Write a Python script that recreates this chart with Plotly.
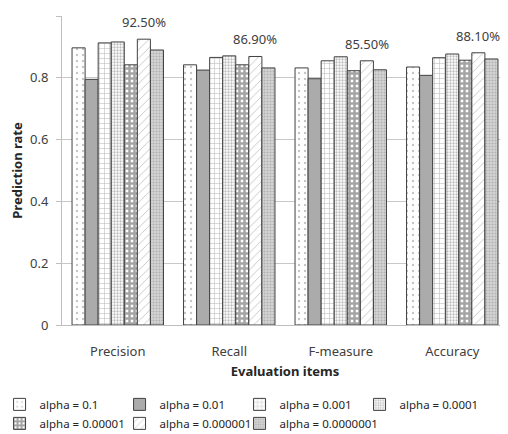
import plotly.graph_objects as go

categories = ["Precision", "Recall", "F-measure", "Accuracy"]
series_names = ["alpha = 0.1", "alpha = 0.01", "alpha = 0.001", "alpha = 0.0001",
                "alpha = 0.00001", "alpha = 0.000001", "alpha = 0.0000001"]
alpha_0_1 = [0.897, 0.842, 0.832, 0.835]
alpha_0_01 = [0.795, 0.825, 0.797, 0.808]
alpha_0_001 = [0.913, 0.866, 0.855, 0.865]
alpha_0_0001 = [0.916, 0.871, 0.868, 0.877]
alpha_0_00001 = [0.842, 0.842, 0.823, 0.857]
alpha_0_000001 = [0.925, 0.869, 0.855, 0.881]
alpha_0_0000001 = [0.890, 0.832, 0.826, 0.861]
all_values = [alpha_0_1, alpha_0_01, alpha_0_001, alpha_0_0001,
              alpha_0_00001, alpha_0_000001, alpha_0_0000001]
labelled_series = 5  # index of series with data labels
y_ticks = [0, 0.2, 0.4, 0.6, 0.8, 1]

styles = [
    dict(color="white", pattern=dict(shape=".", fgcolor="#8c8c8c", bgcolor="white", size=6, solidity=0.12)),
    dict(color="#ababab", pattern=dict(shape="")),
    dict(color="white", pattern=dict(shape="+", fgcolor="#6e6e6e", bgcolor="white", size=5, solidity=0.2)),
    dict(color="white", pattern=dict(shape=".", fgcolor="#7a7a7a", bgcolor="white", size=3, solidity=0.45)),
    dict(color="white", pattern=dict(shape="+", fgcolor="#4a4a4a", bgcolor="white", size=5, solidity=0.75)),
    dict(color="white", pattern=dict(shape="/", fgcolor="#8a8a8a", bgcolor="white", size=6, solidity=0.15)),
    dict(color="#d6d6d6", pattern=dict(shape=".", fgcolor="#8c8c8c", bgcolor="#d6d6d6", size=3, solidity=0.4)),
]

FONT = "Noto Sans"
fig = go.Figure()
for name, vals, st in zip(series_names, all_values, styles):
    fig.add_trace(go.Bar(
        x=categories, y=vals, name=name,
        marker=dict(color=st["color"], pattern=st["pattern"],
                    line=dict(color="#404040", width=1)),
    ))

n = len(series_names)
bargap = 0.18
plot_w = 446
cat_w = plot_w / len(categories)
bar_w = cat_w * (1 - bargap) / n
offset_px = (labelled_series - (n - 1) / 2) * bar_w
for c, v in zip(categories, all_values[labelled_series]):
    fig.add_annotation(x=c, y=v, text=f"{v*100:.2f}%", showarrow=False,
                       xshift=offset_px, yshift=6, yanchor="bottom",
                       font=dict(family=FONT, size=13, color="#404040"))

fig.update_layout(
    width=500, height=426,
    margin=dict(l=54, r=0, t=8, b=109, autoexpand=False),
    paper_bgcolor="white", plot_bgcolor="white",
    barmode="group", bargap=bargap, bargroupgap=0,
    font=dict(family=FONT, color="#404040"),
    showlegend=True,
    legend=dict(orientation="h", x=-0.14, xanchor="left", y=-0.21, yanchor="top",
                font=dict(family=FONT, size=11.5, color="#262626"),
                entrywidth=75, entrywidthmode="pixels",
                itemwidth=30, tracegroupgap=0, traceorder="normal"),
    xaxis=dict(showline=True, linecolor="#bfbfbf", linewidth=1, automargin=False,
               ticks="", ticklabelstandoff=14,
               tickfont=dict(family=FONT, size=13, color="#404040"),
               title=dict(text="<b>Evaluation items</b>", font=dict(family=FONT, size=13, color="#262626"), standoff=8)),
    yaxis=dict(range=[0, 1], tickvals=y_ticks, ticktext=[f"{t:g}" for t in y_ticks],
               showline=True, linecolor="#bfbfbf", linewidth=1, automargin=False,
               ticks="outside", ticklen=5, tickcolor="#bfbfbf", ticklabelstandoff=5,
               showgrid=True, gridcolor="#c8c8c8", gridwidth=1, zeroline=False,
               tickfont=dict(family=FONT, size=13, color="#404040"),
               title=dict(text="<b>Prediction rate</b>", font=dict(family=FONT, size=13, color="#262626"), standoff=4)),
)

fig.write_html("out.html")
